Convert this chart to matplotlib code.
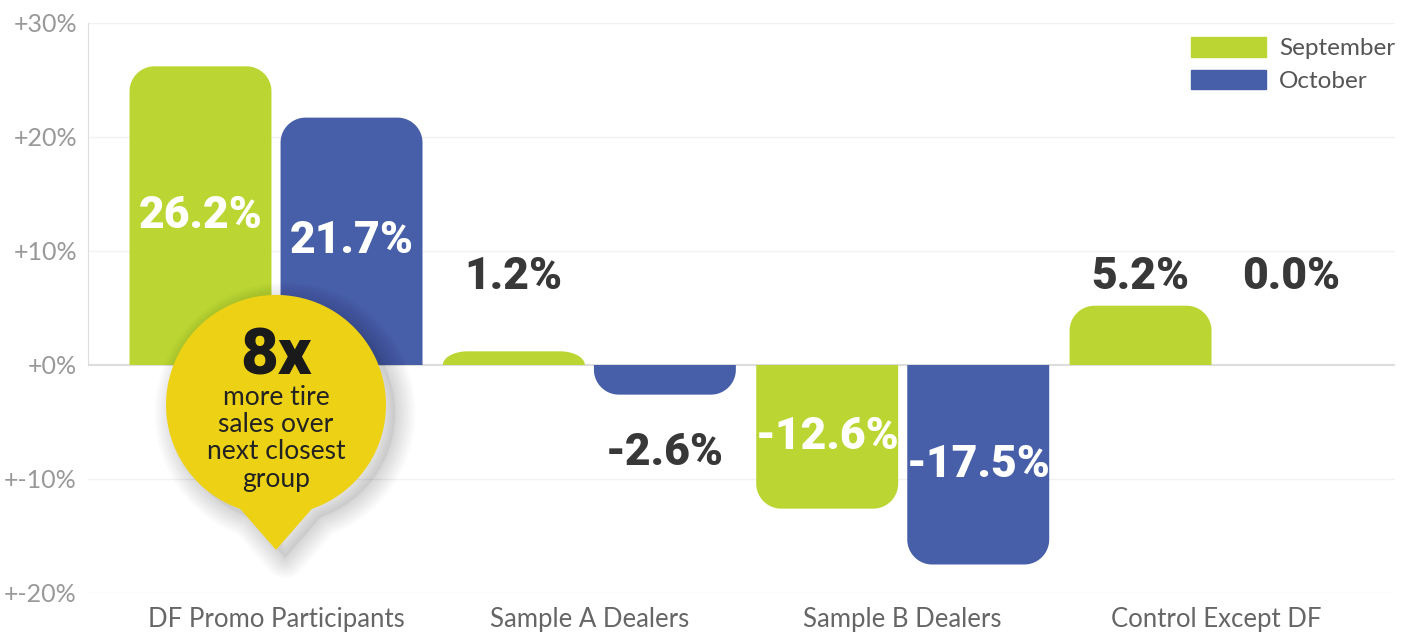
import matplotlib
matplotlib.use("Agg")
import matplotlib.pyplot as plt
import matplotlib.transforms as mtransforms
from matplotlib.patches import Polygon, PathPatch, Patch
from matplotlib.path import Path
import numpy as np

# ---------------- data ----------------
categories = ["DF Promo Participants", "Sample A Dealers", "Sample B Dealers", "Control Except DF"]
september = [26.2, 1.2, -12.6, 5.2]
october = [21.7, -2.6, -17.5, 0.0]
series_names = ["September", "October"]
yticks = [-20, -10, 0, 10, 20, 30]
ytick_labels = ["+-20%", "+-10%", "+0%", "+10%", "+20%", "+30%"]
callout_big = "8x"
callout_text = "more tire\nsales over\nnext closest\ngroup"

# ---------------- style ----------------
GREEN = "#BBD632"
BLUE = "#475EA8"
YELLOW = "#EDD115"
DARK = "#383838"
VALUE_FONT = ['Roboto', 'DejaVu Sans']

plt.rcParams['font.family'] = ['Lato', 'DejaVu Sans']

W, H = 1406, 632
fig = plt.figure(figsize=(W / 100, H / 100), dpi=100)
ax = fig.add_axes([88 / W, 39 / H, 1307 / W, 570 / H])
ax.set_xlim(-0.6, 3.571)
ax.set_ylim(-20, 30)

bar_w = 0.453
offset = 0.241

px_x = ax.transData.transform((1, 0))[0] - ax.transData.transform((0, 0))[0]
px_y = ax.transData.transform((0, 1))[1] - ax.transData.transform((0, 0))[1]


def rounded_bar(xc, value, color, radius_px=25):
    if value == 0:
        return
    s = 1 if value > 0 else -1
    h = abs(value)
    x0, x1 = xc - bar_w / 2, xc + bar_w / 2
    rx = radius_px / px_x
    ry = min(radius_px / px_y, h)
    cy = h - ry
    a = np.linspace(0, np.pi / 2, 30)
    pts = [(x0, 0), (x1, 0)]
    pts += [(x1 - rx + rx * np.cos(t), cy + ry * np.sin(t)) for t in a]
    pts += [(x0 + rx - rx * np.sin(t), cy + ry * np.cos(t)) for t in a]
    pts = [(px, s * py) for px, py in pts]
    ax.add_patch(Polygon(pts, closed=True, fc=color, ec='none', zorder=3))


x = np.arange(len(categories))
for vals, color, sgn in [(september, GREEN, -1), (october, BLUE, 1)]:
    for xi, v in zip(x, vals):
        xc = xi + sgn * offset
        rounded_bar(xc, v, color)
        label = f"{v:.1f}%"
        if abs(v) >= 10:
            ax.text(xc, v / 2, label, color='white', fontsize=32, fontweight='black',
                    family=VALUE_FONT, ha='center', va='center', zorder=5)
        else:
            ypos = 7.7 if v >= 0 else -7.7
            ax.text(xc, ypos, label, color=DARK, fontsize=32, fontweight='black',
                    family=VALUE_FONT, ha='center', va='center', zorder=5)

# axes styling
for s in ['top', 'right', 'bottom']:
    ax.spines[s].set_visible(False)
ax.spines['left'].set_color('#dddddd')
ax.spines['left'].set_bounds(0, 30)
ax.set_yticks(yticks)
ax.set_yticklabels(ytick_labels)
ax.tick_params(axis='y', length=0, pad=8, labelsize=18, labelcolor='#999999')
ax.set_xticks(x)
ax.set_xticklabels(categories)
ax.tick_params(axis='x', length=0, pad=10, labelsize=18.5, labelcolor='#666666')
for t in yticks:
    if t == 0:
        ax.axhline(t, color='#dddddd', lw=1.5, zorder=2)
    else:
        ax.axhline(t, color='#f2f2f2', lw=1, zorder=1)

# legend
handles = [Patch(color=GREEN), Patch(color=BLUE)]
leg = ax.legend(handles, series_names, loc='upper right', bbox_to_anchor=(1.0, 1 - 14 / 570),
                frameon=False, fontsize=17.5, handlelength=3.05, handleheight=0.88,
                handletextpad=0.55, labelspacing=0.42, borderpad=0, borderaxespad=0)
for t in leg.get_texts():
    t.set_color('#555555')

# callout bubble (path in points relative to an anchor in data coords)
anchor = (0, -3.5)
R = 110 * 72 / 100
a1, a2 = np.deg2rad(-71), np.deg2rad(251)
th = np.linspace(a1, a2, 120)
verts = [(R * np.cos(t), R * np.sin(t)) for t in th]
verts.append((0, -145 * 72 / 100))
verts.append(verts[0])
codes = [Path.MOVETO] + [Path.LINETO] * (len(verts) - 2) + [Path.CLOSEPOLY]
bubble = Path(verts, codes)
base_tr = mtransforms.Affine2D().scale(fig.dpi / 72) + mtransforms.ScaledTranslation(*anchor, ax.transData)
sh_tr = mtransforms.Affine2D().scale(fig.dpi / 72).translate(9, -8) + mtransforms.ScaledTranslation(*anchor, ax.transData)
for k in range(14):
    ax.add_patch(PathPatch(bubble, transform=sh_tr, fc='none', ec='#000000',
                           lw=1 + k * 2.2, alpha=0.012, zorder=6, joinstyle='round'))
ax.add_patch(PathPatch(bubble, transform=sh_tr, fc='#000000', ec='none', alpha=0.05, zorder=6))
ax.add_patch(PathPatch(bubble, transform=base_tr, fc=YELLOW, ec='none', zorder=7))
ax.annotate(callout_big, xy=anchor, xytext=(0, 35), textcoords='offset points',
            ha='center', va='center', fontsize=47, fontweight='black', family=VALUE_FONT,
            color='#1a1a1a', zorder=8)
ax.annotate(callout_text, xy=anchor, xytext=(0, -24), textcoords='offset points',
            ha='center', va='center', fontsize=19, color='#222222', linespacing=1.12, zorder=8)

fig.savefig("out.png", dpi=100)
